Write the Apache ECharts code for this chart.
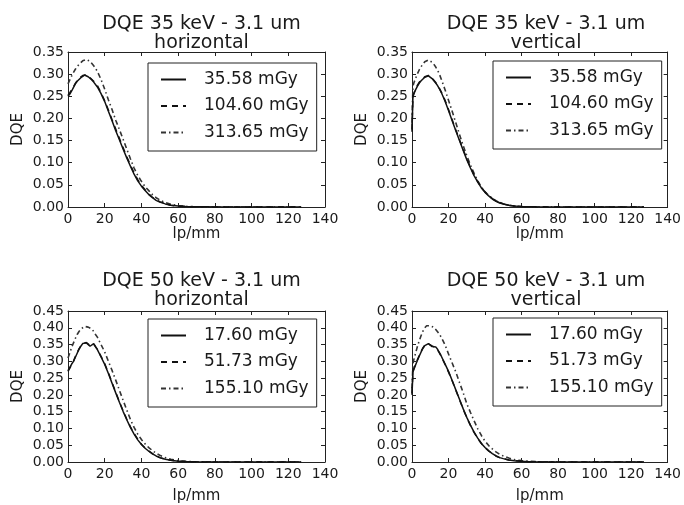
<!DOCTYPE html>
<html>
<head>
<meta charset="utf-8">
<script src="https://cdn.jsdelivr.net/npm/echarts@6/dist/echarts.min.js"></script>
<style>html,body{margin:0;padding:0;background:#fff}#c{width:684px;height:505px}</style>
</head>
<body>
<div id="c"></div>
<script>
// x positions (lp/mm)
const xH = [0,1,2,3,4,5,6,7,8,9,10,11,12,13,14,15,16,18,20,22,24,26,28,30,32,34,36,38,40,42,44,46,48,50,53,56,60,64,68,72,76,80,90,100,110,120,127];
const xV = [0,0.5,1,2,3,4,5,6,7,8,9,10,11,12,13,14,15,16,18,20,22,24,26,28,30,32,34,36,38,40,42,44,46,48,50,53,56,60,64,68,72,76,80,90,100,110,120,127];

const titles = ['DQE 35 keV - 3.1 um\nhorizontal','DQE 35 keV - 3.1 um\nvertical','DQE 50 keV - 3.1 um\nhorizontal','DQE 50 keV - 3.1 um\nvertical'];
const names35 = ['35.58 mGy','104.60 mGy','313.65 mGy'];
const names50 = ['17.60 mGy','51.73 mGy','155.10 mGy'];
const yMax = [0.35, 0.35, 0.45, 0.45];
const xTicks = [0,20,40,60,80,100,120,140];

// 35 keV horizontal
const h35_1 = [0.250,0.255,0.262,0.270,0.278,0.284,0.287,0.292,0.296,0.298,0.297,0.294,0.291,0.287,0.282,0.278,0.271,0.256,0.238,0.216,0.195,0.172,0.152,0.131,0.111,0.092,0.074,0.059,0.047,0.037,0.028,0.021,0.015,0.011,0.007,0.004,0.002,0.001,0.0006,0.0004,0.0003,0.0002,0.0001,0.0001,0.0001,0.0001,0.0001];
const h35_2 = [0.252,0.258,0.265,0.272,0.279,0.285,0.290,0.294,0.297,0.299,0.298,0.296,0.292,0.288,0.284,0.279,0.274,0.258,0.240,0.219,0.197,0.176,0.155,0.134,0.114,0.095,0.077,0.062,0.049,0.039,0.030,0.022,0.016,0.012,0.008,0.004,0.002,0.001,0.0006,0.0004,0.0003,0.0002,0.0001,0.0001,0.0001,0.0001,0.0001];
const h35_3 = [0.278,0.287,0.296,0.304,0.311,0.317,0.322,0.326,0.330,0.332,0.333,0.332,0.329,0.325,0.319,0.313,0.306,0.288,0.266,0.242,0.220,0.196,0.175,0.153,0.131,0.109,0.088,0.071,0.058,0.046,0.037,0.028,0.021,0.016,0.010,0.006,0.003,0.0015,0.0008,0.0004,0.0002,0.0001,0.0001,0.0001,0.0001,0.0001,0.0001];
// 35 keV vertical
const v35_1 = [0.170,0.248,0.255,0.265,0.273,0.280,0.285,0.289,0.293,0.296,0.296,0.294,0.290,0.285,0.280,0.274,0.267,0.259,0.240,0.218,0.195,0.172,0.150,0.128,0.107,0.088,0.071,0.056,0.043,0.033,0.025,0.018,0.013,0.009,0.007,0.004,0.002,0.001,0.0005,0.0003,0.0002,0.0001,0.0001,0.0001,0.0001,0.0001,0.0001,0.0001];
const v35_2 = [0.175,0.250,0.257,0.267,0.275,0.282,0.287,0.291,0.294,0.297,0.297,0.295,0.291,0.287,0.281,0.275,0.268,0.260,0.242,0.220,0.197,0.174,0.152,0.130,0.109,0.090,0.072,0.057,0.044,0.034,0.026,0.019,0.014,0.010,0.007,0.004,0.002,0.001,0.0005,0.0003,0.0002,0.0001,0.0001,0.0001,0.0001,0.0001,0.0001,0.0001];
const v35_3 = [0.190,0.272,0.280,0.291,0.301,0.310,0.317,0.323,0.328,0.331,0.332,0.330,0.327,0.322,0.316,0.309,0.300,0.289,0.266,0.241,0.216,0.190,0.164,0.139,0.116,0.095,0.076,0.059,0.045,0.034,0.026,0.019,0.014,0.010,0.007,0.004,0.002,0.001,0.0005,0.0003,0.0002,0.0001,0.0001,0.0001,0.0001,0.0001,0.0001,0.0001];
// 50 keV horizontal
const h50_1 = [0.272,0.282,0.292,0.300,0.312,0.324,0.336,0.345,0.353,0.357,0.355,0.350,0.345,0.350,0.353,0.343,0.335,0.313,0.291,0.264,0.235,0.206,0.178,0.151,0.126,0.103,0.083,0.066,0.052,0.041,0.032,0.024,0.018,0.013,0.008,0.005,0.0025,0.0012,0.0006,0.0003,0.0002,0.0001,0.0001,0.0001,0.0001,0.0001,0.0001];
const h50_2 = [0.270,0.280,0.290,0.301,0.314,0.326,0.337,0.346,0.352,0.356,0.356,0.352,0.347,0.349,0.351,0.344,0.336,0.315,0.293,0.266,0.237,0.208,0.180,0.153,0.128,0.105,0.085,0.068,0.053,0.042,0.033,0.025,0.018,0.013,0.008,0.005,0.0025,0.0012,0.0006,0.0003,0.0002,0.0001,0.0001,0.0001,0.0001,0.0001,0.0001];
const h50_3 = [0.310,0.325,0.342,0.355,0.368,0.380,0.389,0.396,0.401,0.404,0.404,0.402,0.400,0.396,0.389,0.380,0.372,0.350,0.328,0.300,0.273,0.244,0.214,0.184,0.155,0.127,0.103,0.083,0.067,0.054,0.043,0.034,0.026,0.020,0.013,0.008,0.004,0.002,0.001,0.0005,0.0003,0.0002,0.0001,0.0001,0.0001,0.0001,0.0001];
// 50 keV vertical
const v50_1 = [0.200,0.268,0.276,0.290,0.303,0.316,0.328,0.339,0.347,0.352,0.353,0.350,0.344,0.346,0.343,0.336,0.326,0.316,0.293,0.270,0.243,0.215,0.187,0.159,0.133,0.110,0.089,0.071,0.055,0.043,0.033,0.025,0.018,0.013,0.010,0.006,0.004,0.002,0.001,0.0005,0.0003,0.0002,0.0001,0.0001,0.0001,0.0001,0.0001,0.0001];
const v50_2 = [0.205,0.270,0.278,0.292,0.305,0.318,0.330,0.340,0.348,0.352,0.352,0.349,0.346,0.345,0.341,0.334,0.325,0.315,0.292,0.268,0.242,0.214,0.186,0.158,0.132,0.109,0.088,0.070,0.055,0.043,0.033,0.025,0.018,0.013,0.010,0.006,0.004,0.002,0.001,0.0005,0.0003,0.0002,0.0001,0.0001,0.0001,0.0001,0.0001,0.0001];
const v50_3 = [0.220,0.292,0.305,0.325,0.345,0.362,0.377,0.390,0.400,0.406,0.407,0.406,0.404,0.401,0.395,0.388,0.381,0.372,0.350,0.322,0.295,0.268,0.237,0.207,0.174,0.148,0.123,0.099,0.079,0.062,0.049,0.039,0.030,0.023,0.018,0.012,0.007,0.004,0.002,0.001,0.0005,0.0003,0.0002,0.0001,0.0001,0.0001,0.0001,0.0001];

const panels = [
  {x: xH, ys: [h35_1,h35_2,h35_3], names: names35},
  {x: xV, ys: [v35_1,v35_2,v35_3], names: names35},
  {x: xH, ys: [h50_1,h50_2,h50_3], names: names50},
  {x: xV, ys: [v50_1,v50_2,v50_3], names: names50}
];

// layout
const grids = [
  {left: 68, top: 52, width: 257, height: 155},
  {left: 412, top: 52, width: 258, height: 155},
  {left: 68, top: 311, width: 257, height: 153},
  {left: 412, top: 311, width: 258, height: 153}
];
const legendPos = [
  {left: 148, top: 63},
  {left: 493, top: 61},
  {left: 148, top: 319},
  {left: 493, top: 318}
];
const titleTop = [10, 10, 267, 267];
const xNameGap = [17, 17, 27, 27];

const FONT = 'DejaVu Sans';
const TXT = '#1a1a1a';
const lineTypes = ['solid', [6, 5], [5, 3, 1.5, 3]];

const option = {
  animation: false,
  backgroundColor: '#ffffff',
  textStyle: {fontFamily: FONT, color: TXT},
  title: [], grid: [], xAxis: [], yAxis: [], legend: [], series: []
};

panels.forEach((p, g) => {
  const gr = grids[g];
  option.grid.push({left: gr.left, top: gr.top, width: gr.width, height: gr.height, containLabel: false});
  option.title.push({
    text: titles[g], left: gr.left + gr.width / 2, top: titleTop[g], textAlign: 'center',
    textStyle: {fontFamily: FONT, fontSize: 19, fontWeight: 'normal', color: TXT, lineHeight: 19}
  });
  const axLine = {show: true, onZero: false, lineStyle: {color: '#222', width: 1}};
  const tick = {show: true, inside: true, length: 4, lineStyle: {color: '#222'}};
  option.xAxis.push({
    type: 'value', gridIndex: g, min: 0, max: 140, interval: 20, position: 'bottom',
    name: 'lp/mm', nameLocation: 'middle', nameGap: xNameGap[g],
    nameTextStyle: {fontFamily: FONT, fontSize: 15, color: TXT, verticalAlign: 'top'},
    axisLine: axLine, axisTick: tick, splitLine: {show: false},
    axisLabel: {fontFamily: FONT, fontSize: 14, color: TXT, margin: 5}
  });
  option.xAxis.push({
    type: 'value', gridIndex: g, min: 0, max: 140, interval: 20, position: 'top',
    axisLine: axLine, axisTick: tick, splitLine: {show: false}, axisLabel: {show: false}
  });
  option.yAxis.push({
    type: 'value', gridIndex: g, min: 0, max: yMax[g], interval: 0.05, position: 'left',
    name: 'DQE', nameLocation: 'middle', nameGap: 42, nameRotate: 90,
    nameTextStyle: {fontFamily: FONT, fontSize: 15, color: TXT},
    axisLine: axLine, axisTick: tick, splitLine: {show: false},
    axisLabel: {fontFamily: FONT, fontSize: 14, color: TXT, margin: 4, formatter: v => v.toFixed(2)}
  });
  option.yAxis.push({
    type: 'value', gridIndex: g, min: 0, max: yMax[g], interval: 0.05, position: 'right',
    axisLine: axLine, axisTick: tick, splitLine: {show: false}, axisLabel: {show: false}
  });
  p.ys.forEach((ys, k) => {
    option.series.push({
      type: 'line', name: p.names[k], xAxisIndex: 2 * g, yAxisIndex: 2 * g,
      data: p.x.map((x, i) => [x, ys[i]]),
      showSymbol: false, symbol: 'none', smooth: false,
      lineStyle: {color: k === 2 ? '#333' : '#111', width: k === 2 ? 1.6 : 1.5, type: lineTypes[k]},
      itemStyle: {color: '#111'}, z: 3 - k
    });
  });
  option.legend.push({
    left: legendPos[g].left, top: legendPos[g].top, orient: 'vertical',
    data: p.names, itemWidth: 25, itemHeight: 14, itemGap: 9.5,
    padding: [8, 8, 10, 12], borderColor: '#222', borderWidth: 1, backgroundColor: '#fff',
    selectedMode: false, z: 10,
    itemStyle: {opacity: 0},
    textStyle: {fontFamily: FONT, fontSize: 17, color: TXT, lineHeight: 14, padding: [0, 0, 0, 13]}
  });
});

const chart = echarts.init(document.getElementById('c'), null, {renderer: 'canvas'});
chart.setOption(option);
</script>
</body>
</html>
